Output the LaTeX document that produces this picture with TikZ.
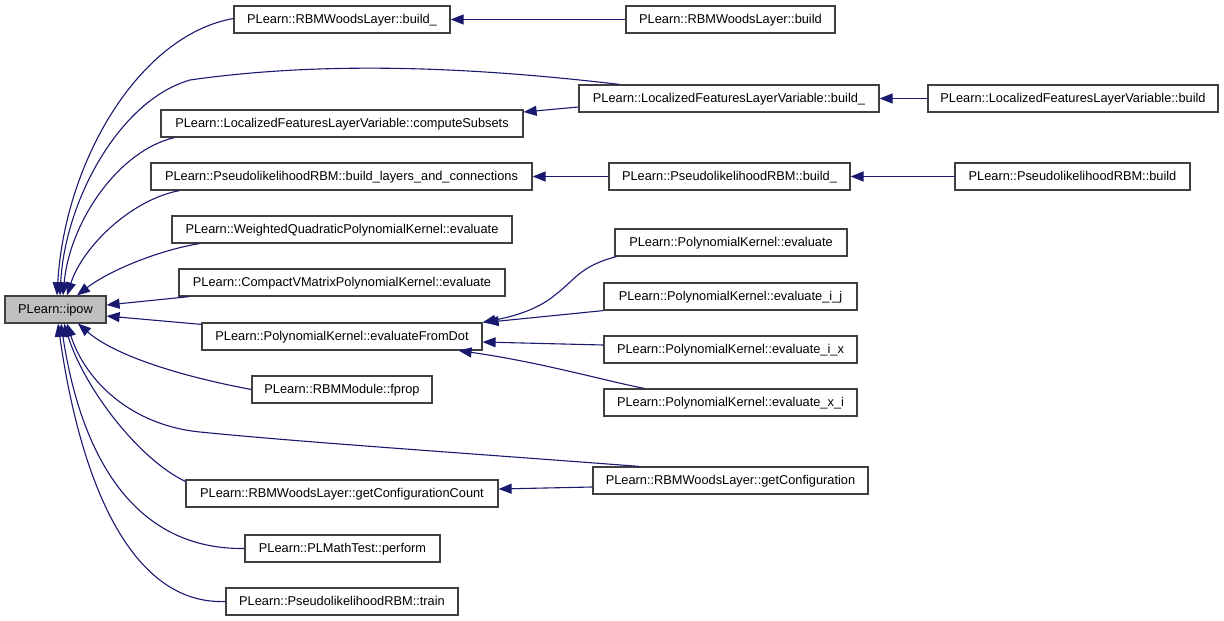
\documentclass[tikz,border=0pt]{standalone}
\usepackage{fontspec}
\setmainfont{Liberation Sans}
\usetikzlibrary{arrows.meta}
\definecolor{edgeblue}{HTML}{191970}
\definecolor{boxline}{HTML}{404040}
\definecolor{boxfill}{HTML}{BFBFBF}
\tikzset{
  box/.style={draw=boxline, line width=1.2pt, inner sep=0pt, minimum height=27pt, text height=9.5pt, text depth=1.5pt, font=\fontsize{12.8}{14}\selectfont, text=black},
  edge/.style={draw=edgeblue, line width=1.1pt, -{Triangle[length=13pt,width=10pt]}},
}
\begin{document}
\begin{tikzpicture}[x=1pt,y=-1pt]
\useasboundingbox[fill=white] (0,0) rectangle (1224,621);
\node[box, fill=boxfill, minimum width=101pt] (ipow) at (55.5,309.5) {PLearn::ipow};
\node[box, minimum width=216pt] (wb_) at (342,19.5) {PLearn::RBMWoodsLayer::build\_};
\node[box, minimum width=209pt] (wb) at (730.5,19.5) {PLearn::RBMWoodsLayer::build};
\node[box, minimum width=300pt] (lb_) at (729,98.5) {PLearn::LocalizedFeaturesLayerVariable::build\_};
\node[box, minimum width=290pt] (lb) at (1073,98.5) {PLearn::LocalizedFeaturesLayerVariable::build};
\node[box, minimum width=362pt] (cs) at (342,123.5) {PLearn::LocalizedFeaturesLayerVariable::computeSubsets};
\node[box, minimum width=381pt] (bl) at (341.5,176.5) {PLearn::PseudolikelihoodRBM::build\_layers\_and\_connections};
\node[box, minimum width=241pt] (pb_) at (729.5,176.5) {PLearn::PseudolikelihoodRBM::build\_};
\node[box, minimum width=235pt] (pb) at (1072.5,176.5) {PLearn::PseudolikelihoodRBM::build};
\node[box, minimum width=340pt] (wq) at (342,229.5) {PLearn::WeightedQuadraticPolynomialKernel::evaluate};
\node[box, minimum width=326pt] (cv) at (342,282.5) {PLearn::CompactVMatrixPolynomialKernel::evaluate};
\node[box, minimum width=280pt] (efd) at (342,336.5) {PLearn::PolynomialKernel::evaluateFromDot};
\node[box, minimum width=232pt] (ev) at (731,242.5) {PLearn::PolynomialKernel::evaluate};
\node[box, minimum width=253pt] (eij) at (730.5,296.5) {PLearn::PolynomialKernel::evaluate\_i\_j};
\node[box, minimum width=253pt] (eix) at (730.5,349.5) {PLearn::PolynomialKernel::evaluate\_i\_x};
\node[box, minimum width=253pt] (exi) at (730.5,402.5) {PLearn::PolynomialKernel::evaluate\_x\_i};
\node[box, minimum width=180pt] (fp) at (342,389.5) {PLearn::RBMModule::fprop};
\node[box, minimum width=275pt] (gc) at (730.5,480.5) {PLearn::RBMWoodsLayer::getConfiguration};
\node[box, minimum width=312pt] (gcc) at (342,493.5) {PLearn::RBMWoodsLayer::getConfigurationCount};
\node[box, minimum width=195pt] (pf) at (342.5,548.5) {PLearn::PLMathTest::perform};
\node[box, minimum width=232pt] (tr) at (342,601.5) {PLearn::PseudolikelihoodRBM::train};

% edges into ipow (top)
\draw[edge] ([yshift=1pt]wb_.west) .. controls (140,35) and (65,160) .. ([xshift=1.5pt]ipow.north);
\draw[edge] ([xshift=41pt]lb_.north west) .. controls (480,68) and (330,60) .. (190,80) .. controls (120,100) and (65,200) .. ([xshift=4.5pt]ipow.north);
\draw[edge] ([xshift=14pt]cs.south west) .. controls (120,150) and (70,220) .. ([xshift=7.5pt]ipow.north);
\draw[edge] ([xshift=29pt]bl.south west) .. controls (130,200) and (82,248) .. ([xshift=11.5pt]ipow.north);
\draw[edge] ([xshift=28pt]wq.south west) .. controls (160,250) and (110,270) .. ([xshift=21.5pt]ipow.north);
\draw[edge] ([xshift=11pt]cv.south west) -- ([yshift=4.5pt]ipow.east);
\draw[edge] ([yshift=-2pt]efd.north west) -- ([yshift=-6.5pt]ipow.east);
% edges into ipow (bottom)
\draw[edge] (fp.west) .. controls (200,380) and (120,360) .. ([xshift=22.5pt]ipow.south);
\draw[edge] ([xshift=47pt]gc.north west) .. controls (450,452) and (300,442) .. (200,432) .. controls (130,425) and (85,380) .. ([xshift=11.5pt]ipow.south);
\draw[edge] ([yshift=-2pt]gcc.north west) .. controls (140,460) and (85,390) .. ([xshift=8.5pt]ipow.south);
\draw[edge] (pf.west) .. controls (130,550) and (80,450) .. ([xshift=5.5pt]ipow.south);
\draw[edge] (tr.west) .. controls (130,605) and (80,480) .. ([xshift=2.5pt]ipow.south);
% horizontal chains
\draw[edge] (wb.west) -- (wb_.east);
\draw[edge] (lb.west) -- (lb_.east);
\draw[edge] ([yshift=-8.5pt]lb_.west) -- ([yshift=11.5pt]cs.east);
\draw[edge] (pb.west) -- (pb_.east);
\draw[edge] (pb_.west) -- (bl.east);
\draw[edge] ([yshift=-6.5pt]gc.west) -- ([yshift=4.5pt]gcc.east);
% into evaluateFromDot
\draw[edge] ([xshift=2pt]ev.south west) .. controls (580,266) and (575,280) .. (555,295) .. controls (535,312) and (505,318) .. (efd.north east);
\draw[edge] (eij.south west) -- ([xshift=3pt]efd.north east);
\draw[edge] ([yshift=4.5pt]eix.west) -- ([yshift=-5.5pt]efd.east);
\draw[edge] ([xshift=41pt]exi.north west) .. controls (610,382) and (540,362) .. ([xshift=-24pt]efd.south east);
\end{tikzpicture}
\end{document}
